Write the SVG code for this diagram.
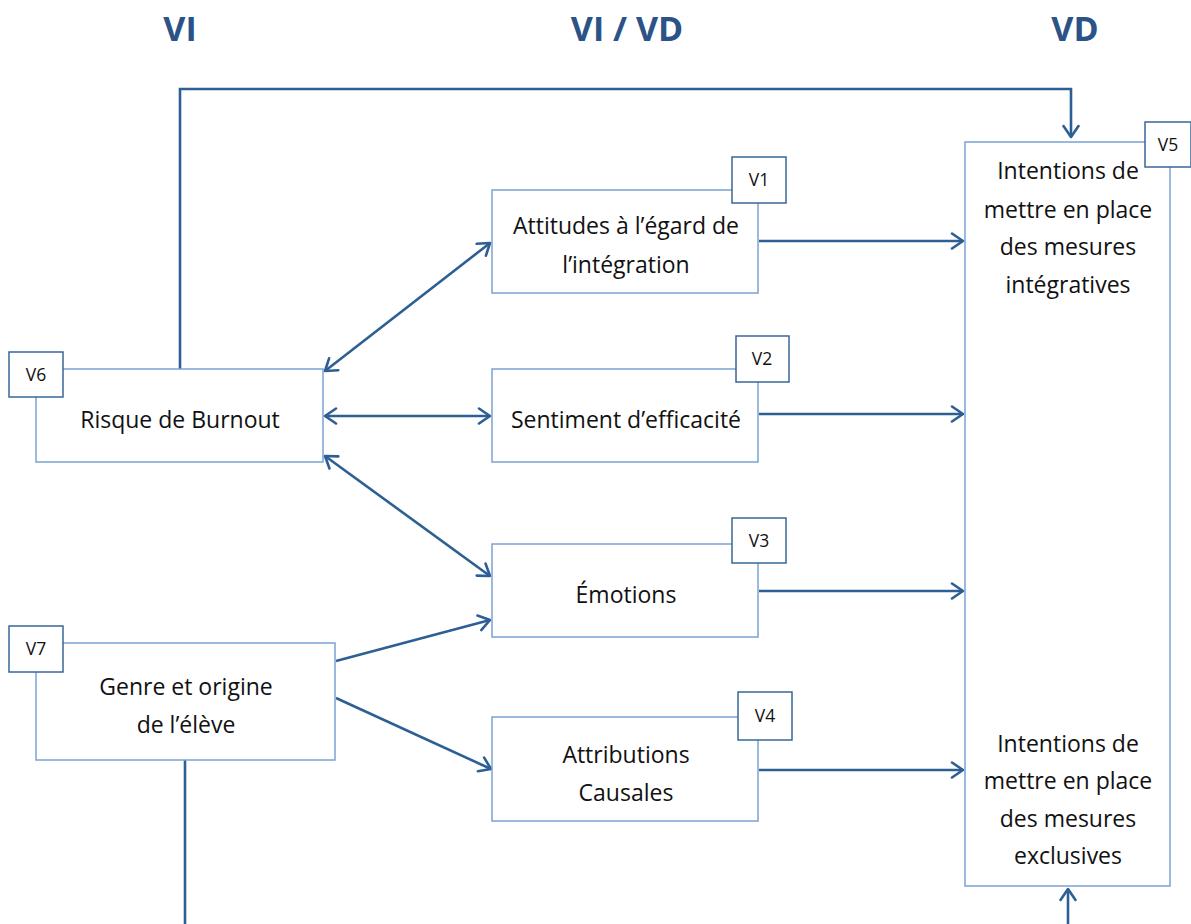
<svg xmlns="http://www.w3.org/2000/svg" width="1191" height="924" viewBox="0 0 1191 924">
  <defs>
    <marker id="head" viewBox="0 0 16 18" refX="14" refY="9" markerWidth="16" markerHeight="18" markerUnits="userSpaceOnUse" orient="auto-start-reverse">
      <path d="M3,1.5 L14,9 L3,16.5" fill="none" stroke="#2D5F94" stroke-width="2.6" stroke-linecap="round" stroke-linejoin="round"/>
    </marker>
    <style>
      .title { font-family: "Open Sans", "Liberation Sans", sans-serif; font-weight: bold; font-size: 34px; fill: #2B5387; text-anchor: middle; }
      .box { fill: #FFFFFF; stroke: #7BA3D4; stroke-width: 1.5; }
      .tag { fill: #FFFFFF; stroke: #3A6796; stroke-width: 1.5; }
      .txt { font-family: "Open Sans", Lato, "Liberation Sans", sans-serif; font-size: 23px; fill: #111111; text-anchor: middle; }
      .tagtxt { font-family: "Open Sans", Lato, "Liberation Sans", sans-serif; font-size: 17.5px; fill: #111111; text-anchor: middle; }
      .wire { fill: none; stroke: #2D5F94; stroke-width: 2.6; }
    </style>
  </defs>

  <rect width="1191" height="924" fill="#FFFFFF"/>

  <!-- column headings -->
  <text class="title" x="180" y="41">VI</text>
  <text class="title" x="627" y="41">VI / VD</text>
  <text class="title" x="1075" y="41">VD</text>

  <!-- connectors -->
  <g id="connectors">
    <path class="wire" d="M180,369 V89 H1071 V137" marker-end="url(#head)"/>
    <path class="wire" d="M185,760 V924"/>
    <path class="wire" d="M1068,924 V889" marker-end="url(#head)"/>
    <path class="wire" d="M1068,340 V690" marker-start="url(#head)" marker-end="url(#head)"/>
    <path class="wire" d="M325,371 L490,243" marker-start="url(#head)" marker-end="url(#head)"/>
    <path class="wire" d="M325,416 H490" marker-start="url(#head)" marker-end="url(#head)"/>
    <path class="wire" d="M325,456 L490,576" marker-start="url(#head)" marker-end="url(#head)"/>
    <path class="wire" d="M336,661 L490,620" marker-end="url(#head)"/>
    <path class="wire" d="M336,698 L491,769" marker-end="url(#head)"/>
    <path class="wire" d="M759,241 H963" marker-end="url(#head)"/>
    <path class="wire" d="M759,414 H963" marker-end="url(#head)"/>
    <path class="wire" d="M759,591 H963" marker-end="url(#head)"/>
    <path class="wire" d="M759,770 H963" marker-end="url(#head)"/>
  </g>

  <!-- V5: intentions -->
  <g id="v5">
    <rect class="box" x="965" y="142" width="205" height="744"/>
    <rect class="tag" x="1145" y="122" width="46" height="45"/>
    <text class="tagtxt" x="1168" y="151">V5</text>
    <text class="txt" x="1068" y="179">Intentions de</text>
    <text class="txt" x="1068" y="218">mettre en place</text>
    <text class="txt" x="1068" y="255">des mesures</text>
    <text class="txt" x="1068" y="293">intégratives</text>
    <text class="txt" x="1068" y="752">Intentions de</text>
    <text class="txt" x="1068" y="789">mettre en place</text>
    <text class="txt" x="1068" y="827">des mesures</text>
    <text class="txt" x="1068" y="864">exclusives</text>
  </g>

  <!-- V6: burnout -->
  <g id="v6">
    <rect class="box" x="36" y="369" width="287" height="93"/>
    <rect class="tag" x="9" y="352" width="54" height="45"/>
    <text class="tagtxt" x="36" y="381">V6</text>
    <text class="txt" x="180" y="428">Risque de Burnout</text>
  </g>

  <!-- V7: gender and origin -->
  <g id="v7">
    <rect class="box" x="36" y="643" width="299" height="117"/>
    <rect class="tag" x="9" y="626" width="54" height="46"/>
    <text class="tagtxt" x="36" y="655">V7</text>
    <text class="txt" x="186" y="695">Genre et origine</text>
    <text class="txt" x="186" y="733">de l’élève</text>
  </g>

  <!-- V1 -->
  <g id="v1">
    <rect class="box" x="492" y="190" width="266" height="103"/>
    <rect class="tag" x="732" y="157" width="54" height="46"/>
    <text class="tagtxt" x="759" y="186">V1</text>
    <text class="txt" x="626" y="234">Attitudes à l’égard de</text>
    <text class="txt" x="626" y="273">l’intégration</text>
  </g>

  <!-- V2 -->
  <g id="v2">
    <rect class="box" x="492" y="369" width="266" height="93"/>
    <rect class="tag" x="736" y="336" width="53" height="46"/>
    <text class="tagtxt" x="762" y="365">V2</text>
    <text class="txt" x="626" y="428">Sentiment d’efficacité</text>
  </g>

  <!-- V3 -->
  <g id="v3">
    <rect class="box" x="492" y="544" width="266" height="93"/>
    <rect class="tag" x="732" y="518" width="54" height="45"/>
    <text class="tagtxt" x="759" y="547">V3</text>
    <text class="txt" x="626" y="603">Émotions</text>
  </g>

  <!-- V4 -->
  <g id="v4">
    <rect class="box" x="492" y="717" width="266" height="104"/>
    <rect class="tag" x="738" y="692" width="54" height="48"/>
    <text class="tagtxt" x="765" y="722">V4</text>
    <text class="txt" x="626" y="763">Attributions</text>
    <text class="txt" x="626" y="801">Causales</text>
  </g>
</svg>
